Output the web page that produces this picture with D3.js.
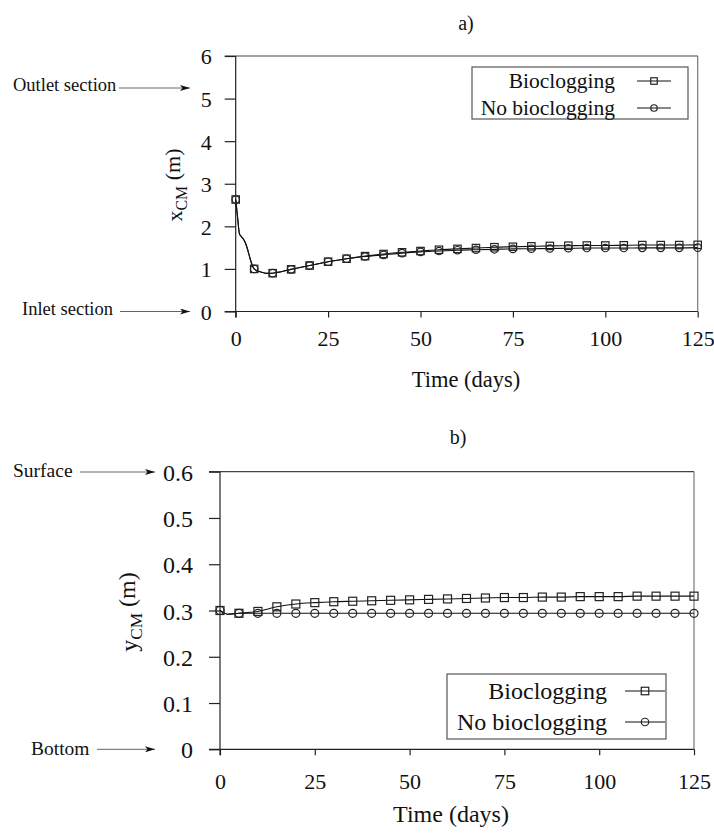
<!DOCTYPE html>
<html><head><meta charset="utf-8">
<script src="https://cdn.jsdelivr.net/npm/d3@7"></script>
<style>
html,body{margin:0;padding:0;background:#fff;}
svg text{font-family:'Liberation Serif','DejaVu Serif',serif;fill:#111;}
</style></head>
<body><svg id="c" width="714" height="838"></svg>
<script>
// ---------- data ----------
const markerDays = [0,5,10,15,20,25,30,35,40,45,50,55,60,65,70,75,80,85,90,95,100,105,110,115,120,125];
// panel a) x_CM (m)
const xcmBio   = [2.63,1.00,0.90,0.99,1.08,1.17,1.24,1.30,1.35,1.39,1.42,1.45,1.47,1.49,1.51,1.52,1.53,1.54,1.545,1.55,1.55,1.555,1.56,1.56,1.56,1.565];
const xcmNoBio = [2.63,1.00,0.90,0.99,1.08,1.17,1.24,1.29,1.33,1.37,1.40,1.42,1.44,1.45,1.46,1.47,1.475,1.48,1.485,1.49,1.49,1.49,1.495,1.495,1.495,1.50];
// early-time detail of the continuous curve (shared by both runs)
const xcmEarlyDays = [0,0.5,1,1.5,2,2.5,3,3.5,4,4.5,5,6,7,8,9,10];
const xcmEarly     = [2.63,2.22,1.83,1.76,1.71,1.64,1.52,1.37,1.21,1.08,1.00,0.95,0.92,0.90,0.895,0.90];
// panel b) y_CM (m)
const ycmBio   = [0.300,0.294,0.298,0.308,0.314,0.317,0.319,0.320,0.321,0.322,0.323,0.324,0.325,0.326,0.327,0.328,0.328,0.329,0.329,0.330,0.330,0.330,0.331,0.331,0.331,0.331];
const ycmNoBio = [0.300,0.294,0.294,0.294,0.294,0.294,0.294,0.294,0.294,0.294,0.294,0.294,0.294,0.294,0.294,0.294,0.294,0.294,0.294,0.294,0.294,0.294,0.294,0.294,0.294,0.294];
const ycmEarlyDays = [0,1,2,5];
const ycmEarly     = [0.300,0.295,0.292,0.294];
const xTicks  = [0,25,50,75,100,125];
const yTicksA = [0,1,2,3,4,5,6];
const yTicksB = [0,0.1,0.2,0.3,0.4,0.5,0.6];
const seriesNames = ["Bioclogging","No bioclogging"];

const svg = d3.select("#c");
const FONT = "'Liberation Serif','DejaVu Serif',serif";

// arrow marker
const defs = svg.append("defs");
defs.append("marker").attr("id","ah").attr("viewBox","0 0 10 6").attr("refX",10).attr("refY",3)
  .attr("markerWidth",11).attr("markerHeight",6).attr("markerUnits","userSpaceOnUse").attr("orient","auto")
  .append("path").attr("d","M0,0 L10,3 L0,6 L2.5,3 Z").attr("fill","#111");

function sym(g, type, cx, cy, s){
  const h = s/2;
  if(type==="sq") g.append("rect").attr("x",cx-h).attr("y",cy-h).attr("width",s).attr("height",s)
      .attr("fill","none").attr("stroke","#222").attr("stroke-width",1.2);
  else g.append("circle").attr("cx",cx).attr("cy",cy).attr("r",h)
      .attr("fill","none").attr("stroke","#222").attr("stroke-width",1.2);
}

function panel(o){
  const g = svg.append("g").attr("font-family",FONT);
  const x = d3.scaleLinear().domain([0,125]).range([o.x0,o.x1]);
  const y = d3.scaleLinear().domain(o.ydom).range([o.y0,o.y1]);
  // frame top & right
  g.append("line").attr("x1",o.x0-o.tk).attr("x2",o.x1).attr("y1",y(o.ydom[1])).attr("y2",y(o.ydom[1])).attr("stroke","#444").attr("stroke-width",1.2);
  g.append("line").attr("x1",o.x1).attr("x2",o.x1).attr("y1",y(o.ydom[1])).attr("y2",y(o.ydom[0])).attr("stroke","#777").attr("stroke-width",1.2);
  // axes
  const ax = g.append("g").attr("transform",`translate(0,${y(o.ydom[0])})`)
    .call(d3.axisBottom(x).tickValues(xTicks).tickSize(6).tickSizeOuter(0).tickPadding(o.xpad));
  ax.attr("font-family",FONT);
  ax.select(".domain").remove();
  ax.append("line").attr("x1",o.x0-o.tk).attr("x2",o.x1).attr("stroke","#222").attr("stroke-width",1.2);
  ax.selectAll(".tick line").attr("stroke","#222").attr("stroke-width",1.2);
  ax.selectAll("text").attr("font-size",22).attr("fill","#111");
  const ay = g.append("g").attr("transform",`translate(${o.x0},0)`)
    .call(d3.axisLeft(y).tickValues(o.yticks).tickSize(o.tk).tickSizeOuter(0).tickPadding(o.ypad).tickFormat(o.yfmt));
  ay.attr("font-family",FONT);
  ay.select(".domain").remove();
  ay.append("line").attr("y1",y(o.ydom[1])).attr("y2",y(o.ydom[0])+6).attr("stroke","#222").attr("stroke-width",1.2);
  ay.selectAll(".tick line").attr("stroke","#222").attr("stroke-width",1.2);
  ay.selectAll("text").attr("font-size",o.yfs).attr("fill","#111").attr("dy","0.36em");
  // lines
  const line = d3.line().x(d=>x(d[0])).y(d=>y(d[1])).curve(d3.curveMonotoneX);
  const early = o.earlyDays.map((d,i)=>[d,o.early[i]]);
  const lastEarly = o.earlyDays[o.earlyDays.length-1];
  [o.noBio,o.bio].forEach(vals=>{
    const pts = early.concat(markerDays.map((d,i)=>[d,vals[i]]).filter(p=>p[0]>lastEarly));
    g.append("path").attr("d",line(pts)).attr("fill","none").attr("stroke","#111").attr("stroke-width",1.1);
  });
  markerDays.forEach((d,i)=>sym(g,"ci",x(d),y(o.noBio[i]),o.ms));
  markerDays.forEach((d,i)=>sym(g,"sq",x(d),y(o.bio[i]),o.ms));
  // x title
  g.append("text").attr("x",o.tx).attr("y",o.ty).attr("text-anchor","middle").attr("font-size",o.tfs).text("Time (days)");
  // y title
  const yt = g.append("text").attr("transform",`translate(${o.ylx},${o.yly}) rotate(-90)`).attr("text-anchor","middle").attr("font-size",o.yltfs);
  yt.append("tspan").text(o.yletter);
  yt.append("tspan").attr("font-size",o.yltfs*0.72).attr("dy","0.3em").text("CM");
  yt.append("tspan").attr("dy","-0.3em").text("\u00a0(m)");
  // panel label
  g.append("text").attr("x",o.plx).attr("y",o.ply).attr("text-anchor","middle").attr("font-size",20).text(o.pl);
  // legend
  const L = o.leg;
  g.append("rect").attr("x",L.x).attr("y",L.y).attr("width",L.w).attr("height",L.h).attr("fill","#fff").attr("stroke","#555").attr("stroke-width",1.2);
  seriesNames.forEach((n,i)=>{
    const cy = L.y + L.r0 + i*L.dr;
    g.append("text").attr("x",L.tx).attr("y",cy).attr("dy","0.33em").attr("text-anchor","end").attr("font-size",L.fs).text(n);
    g.append("line").attr("x1",L.lx0).attr("x2",L.lx1).attr("y1",cy).attr("y2",cy).attr("stroke","#111").attr("stroke-width",1.1);
    sym(g, i===0?"sq":"ci", (L.lx0+L.lx1)/2, cy, L.ms);
  });
  // annotations
  o.ann.forEach(a=>{
    g.append("text").attr("x",a.x).attr("y",a.y).attr("dy","0.33em").attr("font-size",o.afs).text(a.t);
    g.append("line").attr("x1",a.a0).attr("x2",a.a1).attr("y1",a.ay).attr("y2",a.ay).attr("stroke","#666").attr("stroke-width",1).attr("marker-end","url(#ah)");
  });
}

panel({x0:235.7,x1:697.7,y0:311.5,y1:56,ydom:[0,6],yticks:yTicksA,yfmt:d3.format("d"),tk:11,xpad:13,ypad:13,yfs:22,ms:7.4,
  bio:xcmBio,noBio:xcmNoBio,earlyDays:xcmEarlyDays,early:xcmEarly,
  tx:466,ty:387,tfs:22.5,ylx:182,yly:185,yletter:"x",yltfs:22,plx:466,ply:30,pl:"a)",afs:18.5,
  leg:{x:472,y:67,w:216,h:52,r0:14,dr:27,tx:615,lx0:637,lx1:671,fs:21.5,ms:6.5},
  ann:[{t:"Outlet section",x:13,y:85,a0:119,a1:190,ay:88},{t:"Inlet section",x:22,y:309,a0:120,a1:190,ay:311.5}]});

panel({x0:220,x1:694,y0:749.3,y1:471.7,ydom:[0,0.6],yticks:yTicksB,yfmt:d=>d===0?"0":d3.format(".1f")(d),tk:11,xpad:18,ypad:16,yfs:24,ms:8,
  bio:ycmBio,noBio:ycmNoBio,earlyDays:ycmEarlyDays,early:ycmEarly,
  tx:451,ty:822,tfs:24,ylx:137,yly:612,yletter:"y",yltfs:24,plx:458,ply:444,pl:"b)",afs:19.5,
  leg:{x:447,y:674,w:219,h:65,r0:17,dr:31,tx:607,lx0:625,lx1:665,fs:24,ms:7.5},
  ann:[{t:"Surface",x:13,y:471,a0:80,a1:155,ay:472},{t:"Bottom",x:31,y:749,a0:97,a1:155,ay:749.3}]});
</script></body></html>
